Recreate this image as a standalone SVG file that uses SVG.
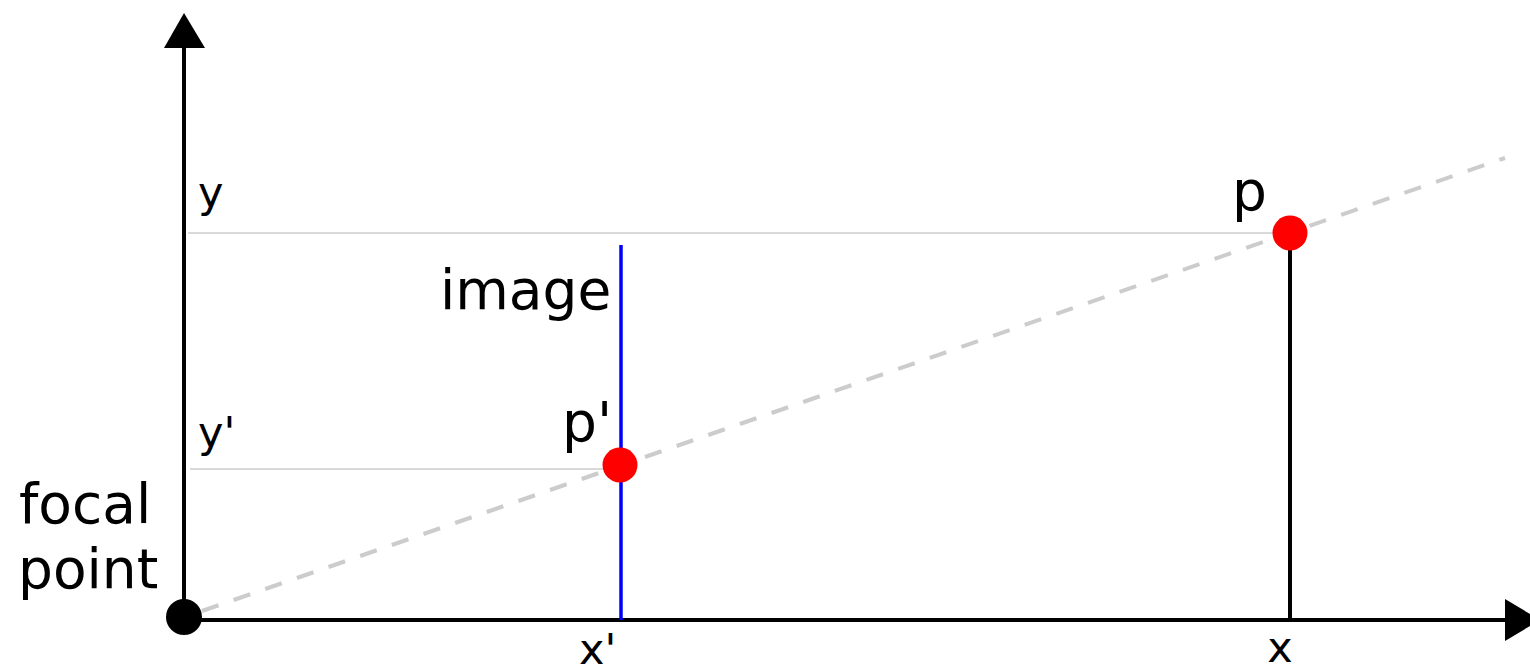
<svg xmlns="http://www.w3.org/2000/svg" width="1530" height="670" viewBox="0 0 1530 670">
<style>
text{font-family:"DejaVu Sans","Liberation Sans",sans-serif;fill:#000}
.big{font-size:55px}
.small{font-size:43px}
.guide{stroke:#cccccc;stroke-width:1.5;fill:none}
.axis{stroke:#000;stroke-width:4;fill:none}
.ray{stroke:#cccccc;stroke-width:4;stroke-dasharray:17.5 16;fill:none}
.pt{fill:#ff0000}
</style>
<rect width="1530" height="670" fill="#fff"/>
<g id="connectors">
<line class="guide" x1="188" y1="233" x2="1290" y2="233"/>
<line class="guide" x1="190" y1="469" x2="620" y2="469"/>
<line class="ray" x1="202" y1="611" x2="1505" y2="158"/>
<line class="axis" x1="184" y1="620" x2="184" y2="45"/>
<polygon points="184,13 164,48 205,48" fill="#000"/>
<line class="axis" x1="184" y1="620" x2="1508" y2="620"/>
<polygon points="1505,599 1540,620 1505,641" fill="#000"/>
<line class="axis" x1="1290" y1="233" x2="1290" y2="620"/>
<line x1="621" y1="245" x2="621" y2="620" stroke="#0000ff" stroke-width="3.5"/>
</g>
<g id="focal">
<circle cx="184" cy="617" r="18" fill="#000"/>
<text class="big" x="19" y="523">focal</text>
<text class="big" x="18" y="588">point</text>
</g>
<g id="p">
<circle class="pt" cx="1290" cy="233" r="17.5"/>
<text class="big" x="1232" y="210">p</text>
</g>
<g id="pprime">
<circle class="pt" cx="620" cy="465" r="17.5"/>
<text class="big" x="562" y="441">p'</text>
</g>
<g id="image">
<text class="big" x="440" y="309">image</text>
</g>
<g id="labels">
<text class="small" x="198" y="207">y</text>
<text class="small" x="198" y="447">y'</text>
<text class="small" x="1280" y="662" text-anchor="middle">x</text>
<text class="small" x="579" y="664">x'</text>
</g>
</svg>
